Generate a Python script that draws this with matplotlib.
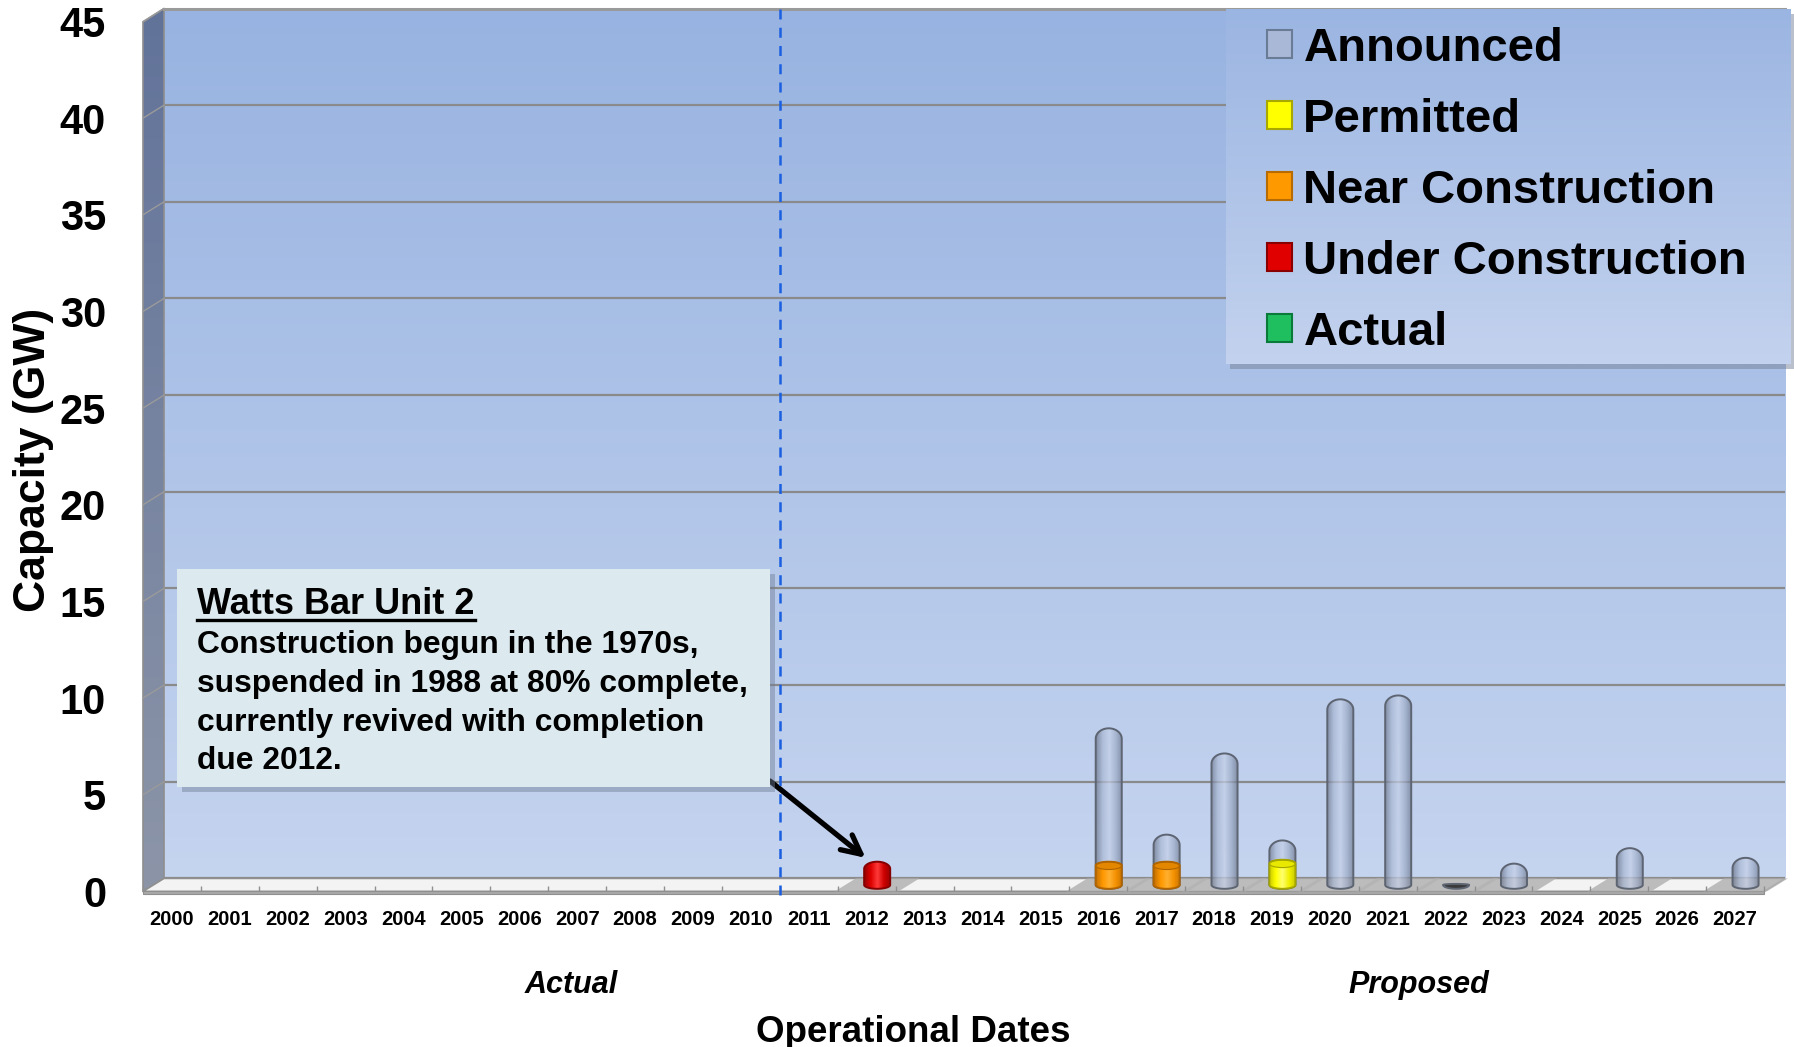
import numpy as np
import matplotlib
matplotlib.use("Agg")
import matplotlib.pyplot as plt
from matplotlib.patches import Polygon, PathPatch, Rectangle, Patch, Ellipse
from matplotlib.path import Path
from matplotlib.transforms import IdentityTransform
from matplotlib.colors import LinearSegmentedColormap
from matplotlib.lines import Line2D

# ---------------- data ----------------
years = [2000, 2001, 2002, 2003, 2004, 2005, 2006, 2007, 2008, 2009, 2010, 2011, 2012, 2013,
         2014, 2015, 2016, 2017, 2018, 2019, 2020, 2021, 2022, 2023, 2024, 2025, 2026, 2027]
year_labels = [str(y) for y in years]
announced = [0, 0, 0, 0, 0, 0, 0, 0, 0, 0, 0, 0, 0, 0,
             0, 0, 8.1, 2.6, 6.8, 2.3, 9.6, 9.8, 0.05, 1.1, 0, 1.9, 0, 1.4]
permitted = [0, 0, 0, 0, 0, 0, 0, 0, 0, 0, 0, 0, 0, 0,
             0, 0, 0, 0, 0, 1.3, 0, 0, 0, 0, 0, 0, 0, 0]
near_construction = [0, 0, 0, 0, 0, 0, 0, 0, 0, 0, 0, 0, 0, 0,
                     0, 0, 1.2, 1.2, 0, 0, 0, 0, 0, 0, 0, 0, 0, 0]
under_construction = [0, 0, 0, 0, 0, 0, 0, 0, 0, 0, 0, 0, 1.2, 0,
                      0, 0, 0, 0, 0, 0, 0, 0, 0, 0, 0, 0, 0, 0]
actual = [0] * 28
y_ticks = [0, 5, 10, 15, 20, 25, 30, 35, 40, 45]
series_names = ["Announced", "Permitted", "Near Construction", "Under Construction", "Actual"]
divider_year = 2010.5
note_title = "Watts Bar Unit 2"
note_lines = ["Construction begun in the 1970s,",
              "suspended in 1988 at 80% complete,",
              "currently revived with completion",
              "due 2012."]

# ---------------- style ----------------
plt.rcParams["font.family"] = ["Liberation Sans", "DejaVu Sans"]
plt.rcParams["font.weight"] = "bold"

W, H = 1794, 1047
fig = plt.figure(figsize=(W / 100, H / 100), dpi=100)
fig.patch.set_facecolor("white")


def fx(px):
    return px / W


def fy(py):
    return 1 - py / H


def rect_axes(left, top, right, bottom):
    return [left / W, 1 - bottom / H, (right - left) / W, (bottom - top) / H]


ax_back = fig.add_axes(rect_axes(164, 8.5, 1785, 878.4), zorder=0)
ax_mid = fig.add_axes(rect_axes(153.5, 15.0, 1774.5, 884.9), zorder=1)
ax_front = fig.add_axes(rect_axes(143, 21.5, 1764, 891.4), zorder=2)
axes = [ax_back, ax_mid, ax_front]
XL = (years[0] - 0.5, years[-1] + 0.5)
YL = (y_ticks[0], y_ticks[-1])
for a in axes:
    a.set_xlim(*XL)
    a.set_ylim(*YL)
    for s in a.spines.values():
        s.set_visible(False)
ax_mid.patch.set_visible(False)
ax_front.patch.set_visible(False)
ax_mid.set_xticks([])
ax_mid.set_yticks([])

# back wall gradient + gridlines
bg = LinearSegmentedColormap.from_list("bg", ["#c5d4ef", "#98b3e1"])
ax_back.imshow(np.linspace(0, 1, 256).reshape(-1, 1), extent=[0, 1, 0, 1],
               transform=ax_back.transAxes, cmap=bg, origin="lower",
               aspect="auto", zorder=0)
ax_back.set_xlim(*XL)
ax_back.set_ylim(*YL)
ax_back.set_yticks(y_ticks)
ax_back.set_xticks([])
ax_back.grid(axis="y", color="#8a8a8a", lw=1.6)
ax_back.tick_params(left=False, labelleft=False)

# left side wall
bl = ax_back.transData.transform((XL[0], YL[0]))
tl = ax_back.transData.transform((XL[0], YL[1]))
fbl = ax_front.transData.transform((XL[0], YL[0]))
ftl = ax_front.transData.transform((XL[0], YL[1])) + np.array([0, -0.5])
wall = Polygon([ftl, tl, bl, fbl], closed=True, transform=IdentityTransform(),
               facecolor="none", edgecolor="#8e8e8e", lw=1.2, clip_on=False, zorder=2)
ax_back.add_patch(wall)
wcm = LinearSegmentedColormap.from_list("w", ["#8c95a8", "#62739a"])
wim = ax_back.imshow(np.linspace(0, 1, 128).reshape(-1, 1),
                     extent=[fbl[0], bl[0], fbl[1], tl[1]], transform=IdentityTransform(),
                     cmap=wcm, origin="lower", aspect="auto", zorder=1)
wim.set_clip_box(fig.bbox)
wim.set_clip_path(wall)
for v in y_ticks:
    p0 = ax_back.transData.transform((XL[0], v))
    p1 = ax_front.transData.transform((XL[0], v))
    ax_back.add_line(Line2D([p0[0], p1[0]], [p0[1], p1[1]], transform=IdentityTransform(),
                            color="#9a9a9a", lw=1.0, clip_on=False, zorder=2))
ax_back.add_line(Line2D([tl[0], ax_back.transData.transform((XL[1], YL[1]))[0]],
                        [tl[1], tl[1]], transform=IdentityTransform(),
                        color="#9a9a9a", lw=2.2, clip_on=False, zorder=3))

# floor
br = ax_back.transData.transform((XL[1], YL[0]))
fbr = ax_front.transData.transform((XL[1], YL[0]))
floor = Polygon([bl, br, fbr, fbl], closed=True, transform=IdentityTransform(),
                facecolor="#f3f3f3", edgecolor="#8f8f8f", lw=1.2, clip_on=False, zorder=2)
ax_back.add_patch(floor)
lip = Polygon([fbl, fbr, fbr + np.array([0, -3]), fbl + np.array([0, -3])], closed=True,
              transform=IdentityTransform(), facecolor="#a9a9a9", edgecolor="#8f8f8f",
              lw=0.8, clip_on=False, zorder=2)
ax_back.add_patch(lip)
totals = [max(a, b, c, d, e) for a, b, c, d, e in
          zip(announced, permitted, near_construction, under_construction, actual)]
for yr, t in zip(years, totals):
    if t > 0:
        q = [ax_back.transData.transform((yr - 0.55, 0)), ax_back.transData.transform((yr + 0.55, 0)),
             ax_front.transData.transform((yr + 0.55, 0)), ax_front.transData.transform((yr - 0.55, 0))]
        ax_back.add_patch(Polygon(q, closed=True, transform=IdentityTransform(),
                                  facecolor="#b3b3b3", edgecolor="none", alpha=0.85,
                                  clip_on=False, zorder=2.5))
ax_front.vlines(np.arange(XL[0], XL[1] + 0.5, 1.0), 0, 0.3, color="#8f8f8f", lw=1.0,
                clip_on=False, zorder=1)


# ---------------- cylinders ----------------
def draw_cylinder(ax, rect, colors, alpha, edge, z, top_frac, bot_frac, top_face=None):
    x, y, w, h = rect.get_x(), rect.get_y(), rect.get_width(), rect.get_height()
    rect.set_visible(False)
    if h <= 0:
        return
    (x0, yb), (x1, yt) = ax.transData.transform([(x, y), (x + w, y + h)])
    rx = (x1 - x0) / 2
    cx = (x0 + x1) / 2
    ryt = min(rx * top_frac, max(yt - yb, 0.5))
    ryb = rx * bot_frac
    tb = np.linspace(np.pi, 2 * np.pi, 40)
    tt = np.linspace(0, np.pi, 40)
    verts = np.vstack([[[x0, yt - ryt]],
                       np.column_stack([cx + rx * np.cos(tb), yb + ryb * np.sin(tb)]),
                       np.column_stack([cx + rx * np.cos(tt), yt - ryt + ryt * np.sin(tt)]),
                       [[x0, yt - ryt]]])
    path = Path(verts, closed=True)
    small = (yt - yb) < 3
    outline = PathPatch(path, facecolor="#3a3a3a" if small else "none", edgecolor=edge,
                        lw=1.4, transform=IdentityTransform(), zorder=z + 0.2, clip_on=False)
    ax.add_patch(outline)
    cmap = LinearSegmentedColormap.from_list("c", colors)
    im = ax.imshow(np.linspace(0, 1, 128).reshape(1, -1), extent=(x0, x1, yb - ryb, yt),
                   transform=IdentityTransform(), cmap=cmap, aspect="auto", alpha=alpha,
                   zorder=z, interpolation="bilinear")
    im.set_clip_box(fig.bbox)
    im.set_clip_path(outline)
    if top_face is not None:
        ax.add_patch(Ellipse((cx, yt - ryt), 2 * rx, 2 * ryt, transform=IdentityTransform(),
                             facecolor=top_face, edgecolor=edge, lw=0.8, zorder=z + 0.1,
                             clip_on=False))


bar_w = 0.45
specs = [
    (announced, ["#6a7488", "#a9b7d2", "#c6d1e8", "#9dabc6", "#6a7488"], 0.72, "#5d6472", 3, 0.8, 0.3, None),
    (near_construction, ["#c47100", "#ff9800", "#ffb030", "#f39000", "#c47100"], 1.0, "#b06400", 4, 0.3, 0.3, "#e38700"),
    (permitted, ["#c8c800", "#ffff00", "#ffff70", "#f0f000", "#c8c800"], 1.0, "#a5a500", 4, 0.3, 0.3, "#e8e800"),
    (under_construction, ["#950000", "#dd0000", "#ff3a3a", "#cc0000", "#950000"], 1.0, "#850000", 4, 0.55, 0.3, None),
    (actual, ["#0b7a3a", "#1fbf5f", "#5fe08f", "#18a850", "#0b7a3a"], 1.0, "#0a6a30", 4, 0.55, 0.3, None),
]
for vals, cols, alp, edge, z, tf, bf, face in specs:
    bars = ax_mid.bar(years, vals, width=bar_w, linewidth=0)
    for r in bars:
        draw_cylinder(ax_mid, r, cols, alp, edge, z, tf, bf, face)
for a in axes:
    a.set_xlim(*XL)
    a.set_ylim(*YL)

# divider line
ax_front.plot([divider_year, divider_year], [YL[1] + 0.65, -0.45], color="#1a5fe0",
              lw=1.8, dashes=(4, 3.3), clip_on=False, zorder=5)

# ---------------- ticks ----------------
ax_front.set_xticks(years, labels=year_labels)
ax_front.set_yticks(y_ticks, labels=[str(v) for v in y_ticks])
ax_front.tick_params(axis="x", length=0, pad=13.5, labelsize=14.5)
ax_front.tick_params(axis="y", length=0, pad=26.6, labelsize=30)

fig.text(fx(33), fy(460), "Capacity (GW)", rotation=90, ha="center", va="center",
         fontsize=32, fontweight="bold")
fig.text(fx(571), fy(985), "Actual", ha="center", va="center", fontsize=22,
         fontweight="bold", style="italic")
fig.text(fx(1419), fy(985), "Proposed", ha="center", va="center", fontsize=22,
         fontweight="bold", style="italic")
fig.text(fx(913), fy(1033), "Operational Dates", ha="center", va="center", fontsize=26.5,
         fontweight="bold")

# ---------------- note box ----------------
ax_front.add_patch(Rectangle((fx(182), fy(792)), fx(770) - fx(177), fy(569) - fy(787),
                             transform=fig.transFigure, facecolor="#6f7d96", alpha=0.45,
                             edgecolor="none", clip_on=False, zorder=8))
ax_front.add_patch(Rectangle((fx(177), fy(787)), fx(770) - fx(177), fy(569) - fy(787),
                             transform=fig.transFigure, facecolor="#dce9ee",
                             edgecolor="none", clip_on=False, zorder=9))
title = fig.text(fx(197), fy(614), note_title, ha="left", va="baseline", fontsize=26,
                 fontweight="heavy", zorder=20)
for i, line in enumerate(note_lines):
    fig.text(fx(197), fy(645.5 + 38.5 * i), line, ha="left", va="center", fontsize=22.9,
             fontweight="bold", zorder=20)
fig.canvas.draw()
bb = title.get_window_extent(renderer=fig.canvas.get_renderer())
fig.add_artist(Line2D([bb.x0, bb.x1], [H - 620, H - 620], transform=IdentityTransform(),
                      color="black", lw=2.4, zorder=21))

# arrow
ui = under_construction.index(max(under_construction))
ax_mid.annotate("", xy=(years[ui] - 0.2, under_construction[ui] + 0.2), xycoords="data",
                xytext=(fx(770), fy(781)), textcoords="figure fraction",
                arrowprops=dict(arrowstyle="->", lw=3.8, color="black", mutation_scale=34,
                                shrinkA=0, shrinkB=0), zorder=10)

# ---------------- legend ----------------
ax_front.add_patch(Rectangle((fx(1230), fy(369)), fx(1790) - fx(1226), fy(9) - fy(364),
                             transform=fig.transFigure, facecolor="#76829a", alpha=0.5,
                             edgecolor="none", clip_on=False, zorder=8))
lcm = LinearSegmentedColormap.from_list("lg", ["#c3d2ee", "#9bb5e2"])
lim = ax_front.imshow(np.linspace(0, 1, 128).reshape(-1, 1),
                      extent=[fx(1226), fx(1790), fy(364), fy(9)], transform=fig.transFigure,
                      cmap=lcm, origin="lower", aspect="auto", zorder=9)
lim.set_clip_on(False)
for a in axes:
    a.set_xlim(*XL)
    a.set_ylim(*YL)
leg_face = ["#a9b8d6", "#ffff00", "#ff9900", "#e00000", "#1fbf5f"]
leg_edge = ["#6a7b95", "#a8a800", "#b86b00", "#8a0000", "#0a7a3a"]
handles = [Patch(facecolor=f, edgecolor=e, lw=1.5) for f, e in zip(leg_face, leg_edge)]
leg = ax_front.legend(handles, series_names, loc="upper left",
                      bbox_to_anchor=(fx(1267), fy(27)), bbox_transform=fig.transFigure,
                      frameon=False, fontsize=34, handlelength=0.52, handleheight=0.52,
                      handletextpad=0.25, labelspacing=0.57, borderpad=0, borderaxespad=0)
leg.set_zorder(11)

fig.savefig("out.png", dpi=100)
